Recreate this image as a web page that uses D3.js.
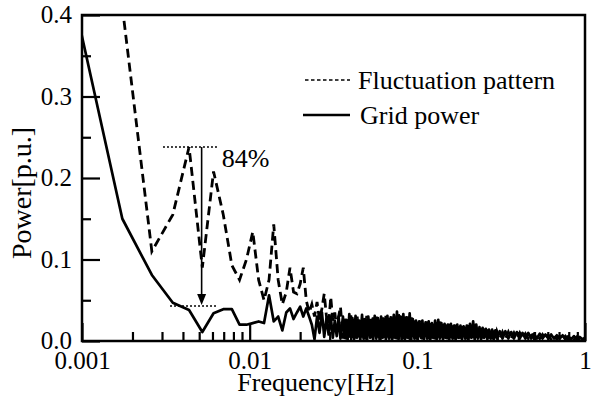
<!DOCTYPE html>
<html>
<head>
<meta charset="utf-8">
<script src="https://cdnjs.cloudflare.com/ajax/libs/d3/7.8.5/d3.min.js"></script>
<style>
  body { margin: 0; background: #fff; }
  text { font-family: "Liberation Serif", "Times New Roman", serif; fill: #000; }
</style>
</head>
<body>
<div id="chart"></div>
<script>
var WIDTH = 594;
var HEIGHT = 399;
var SERIF = '"Liberation Serif", "Times New Roman", serif';

// frequency bins [Hz]
var freq = [0.00087, 0.00174, 0.00261, 0.00348, 0.00435, 0.00522, 0.00609, 0.00696, 0.00783, 0.0087,
  0.00957, 0.01044, 0.01131, 0.01218, 0.01305, 0.01392, 0.01479, 0.01566, 0.01653, 0.0174,
  0.01827, 0.01914, 0.02001, 0.02088, 0.02175, 0.02262, 0.02349, 0.02436, 0.02523, 0.0261,
  0.02697, 0.02784, 0.02871, 0.02958, 0.03045, 0.03132, 0.03219, 0.03306, 0.03393, 0.0348,
  0.0360, 0.0368, 0.0376, 0.0384, 0.0393, 0.0401, 0.0410, 0.0419, 0.0428, 0.0438,
  0.0448, 0.0457, 0.0468, 0.0478, 0.0488, 0.0499, 0.0510, 0.0522, 0.0533, 0.0545,
  0.0557, 0.0569, 0.0582, 0.0595, 0.0608, 0.0621, 0.0635, 0.0649, 0.0663, 0.0678,
  0.0693, 0.0708, 0.0724, 0.0740, 0.0756, 0.0773, 0.0790, 0.0807, 0.0825, 0.0843,
  0.0862, 0.0881, 0.0900, 0.0920, 0.0940, 0.0961, 0.0982, 0.1004, 0.1026, 0.1049,
  0.1072, 0.1095, 0.1119, 0.1144, 0.1169, 0.1195, 0.1221, 0.1248, 0.1276, 0.1304,
  0.1333, 0.1362, 0.1392, 0.1423, 0.1454, 0.1486, 0.1519, 0.1552, 0.1586, 0.1621,
  0.1657, 0.1693, 0.1731, 0.1769, 0.1808, 0.1847, 0.1888, 0.1930, 0.1972, 0.2016,
  0.2060, 0.2105, 0.2152, 0.2199, 0.2247, 0.2297, 0.2347, 0.2399, 0.2452, 0.2506,
  0.2561, 0.2617, 0.2675, 0.2734, 0.2794, 0.2855, 0.2918, 0.2982,
  0.31, 0.322, 0.335, 0.349, 0.363, 0.377, 0.392, 0.408, 0.424, 0.441,
  0.459, 0.477, 0.496, 0.516, 0.537, 0.558, 0.581, 0.604, 0.628, 0.653,
  0.679, 0.706, 0.735, 0.764, 0.795, 0.826, 0.859, 0.894, 0.93, 0.967, 1.0];

// fluctuation pattern spectrum [p.u.]
var fluct = [0.8, 0.41, 0.11, 0.155, 0.238, 0.09, 0.208, 0.155, 0.093, 0.075,
  0.1, 0.134, 0.075, 0.05, 0.075, 0.143, 0.075, 0.045, 0.06, 0.09,
  0.06, 0.058, 0.07, 0.09, 0.05, 0.035, 0.045, 0.03, 0.048, 0.025,
  0.04, 0.058, 0.03, 0.02, 0.054, 0.025, 0.035, 0.015, 0.03, 0.042,
  0.003, 0.030, 0.002, 0.028, 0.004, 0.032, 0.002, 0.027, 0.003, 0.030,
  0.002, 0.026, 0.004, 0.029, 0.002, 0.031, 0.003, 0.027, 0.002, 0.029,
  0.004, 0.030, 0.002, 0.026, 0.003, 0.029, 0.002, 0.031, 0.004, 0.028,
  0.002, 0.030, 0.003, 0.029, 0.002, 0.033, 0.004, 0.031, 0.002, 0.030,
  0.003, 0.032, 0.002, 0.029, 0.004, 0.026, 0.002, 0.024, 0.003, 0.025,
  0.002, 0.023, 0.004, 0.024, 0.002, 0.022, 0.003, 0.024, 0.002, 0.023,
  0.004, 0.024, 0.002, 0.021, 0.003, 0.020, 0.002, 0.021, 0.004, 0.019,
  0.002, 0.020, 0.003, 0.018, 0.002, 0.019, 0.004, 0.018, 0.002, 0.020,
  0.003, 0.022, 0.002, 0.021, 0.004, 0.018, 0.002, 0.016, 0.003, 0.015,
  0.002, 0.014, 0.003, 0.014, 0.002, 0.013, 0.003, 0.012,
  0.003, 0.011, 0.003, 0.011, 0.003, 0.010, 0.003, 0.010, 0.003, 0.009,
  0.003, 0.009, 0.003, 0.008, 0.003, 0.008, 0.002, 0.007, 0.002, 0.007,
  0.002, 0.006, 0.002, 0.006, 0.002, 0.005, 0.002, 0.005, 0.002, 0.005, 0.003];

// grid power spectrum [p.u.]
var grid = [0.43, 0.15, 0.081, 0.047, 0.038, 0.011, 0.034, 0.039, 0.039, 0.02,
  0.02, 0.022, 0.024, 0.022, 0.056, 0.024, 0.03, 0.013, 0.035, 0.04,
  0.027, 0.035, 0.042, 0.03, 0.04, 0.03, 0.02, 0.002, 0.03, 0.01,
  0.035, 0.005, 0.028, 0.008, 0.03, 0.004, 0.025, 0.006, 0.03, 0.003,
  0.030, 0.004, 0.026, 0.002, 0.033, 0.005, 0.028, 0.002, 0.031, 0.004,
  0.025, 0.002, 0.032, 0.003, 0.027, 0.002, 0.030, 0.004, 0.026, 0.002,
  0.031, 0.003, 0.028, 0.002, 0.030, 0.004, 0.027, 0.002, 0.031, 0.003,
  0.029, 0.002, 0.032, 0.004, 0.036, 0.002, 0.030, 0.003, 0.033, 0.002,
  0.029, 0.004, 0.034, 0.002, 0.027, 0.003, 0.025, 0.002, 0.024, 0.004,
  0.025, 0.002, 0.023, 0.003, 0.024, 0.002, 0.022, 0.004, 0.025, 0.002,
  0.026, 0.003, 0.022, 0.002, 0.021, 0.004, 0.020, 0.002, 0.021, 0.003,
  0.019, 0.002, 0.020, 0.004, 0.019, 0.002, 0.018, 0.003, 0.019, 0.002,
  0.021, 0.004, 0.024, 0.002, 0.020, 0.003, 0.017, 0.002, 0.016, 0.004,
  0.015, 0.002, 0.014, 0.003, 0.014, 0.002, 0.013, 0.003,
  0.012, 0.003, 0.012, 0.003, 0.011, 0.003, 0.011, 0.003, 0.010, 0.003,
  0.010, 0.003, 0.009, 0.003, 0.009, 0.003, 0.008, 0.003, 0.008, 0.003,
  0.007, 0.003, 0.007, 0.002, 0.006, 0.002, 0.006, 0.002, 0.005, 0.002, 0.004];

var x_ticks = [0.001, 0.01, 0.1, 1];
var x_tick_labels = ["0.001", "0.01", "0.1", "1"];
var x_minor = [0.002, 0.003, 0.004, 0.005, 0.006, 0.007, 0.008, 0.009,
  0.02, 0.03, 0.04, 0.05, 0.06, 0.07, 0.08, 0.09,
  0.2, 0.3, 0.4, 0.5, 0.6, 0.7, 0.8, 0.9];
var y_ticks = [0, 0.1, 0.2, 0.3, 0.4];
var y_tick_labels = ["0.0", "0.1", "0.2", "0.3", "0.4"];
var y_minor = [0.05, 0.15, 0.25, 0.35];

// 84% reduction marker
var peak_level = 0.238;
var low_level = 0.043;
var peak_span = [0.00304, 0.00647];
var low_span = [0.00335, 0.00647];
var arrow_freq = 0.00517;

var series_names = ["Fluctuation pattern", "Grid power"];

var LEFT = 82;
var TOP = 15;
var RIGHT = 9;
var BOTTOM = 58;
var W = WIDTH - LEFT - RIGHT;
var H = HEIGHT - TOP - BOTTOM;

const svg = d3.select("#chart").append("svg").attr("width", WIDTH).attr("height", HEIGHT)
const g = svg.append("g").attr("transform", "translate(" + LEFT + "," + TOP + ")")

const x_scale = d3.scaleLog().domain([0.001, 1]).range([0, W])
const y_scale = d3.scaleLinear().domain([0, 0.4]).range([H, 0])

svg.append("defs").append("clipPath").attr("id", "plot-clip")
  .append("rect").attr("width", W).attr("height", H)

// axes, ticks point inward
const gen_x = d3.axisBottom(x_scale).tickValues(x_ticks).tickFormat((d, i) => x_tick_labels[i]).tickSizeInner(-18).tickSizeOuter(0).tickPadding(10)
const x_axis = g.append("g").attr("class", "x axis").attr("transform", "translate(0," + H + ")").call(gen_x)
const gen_x_minor = d3.axisBottom(x_scale).tickValues(x_minor).tickFormat("").tickSizeInner(-9).tickSizeOuter(0)
const x_axis_minor = g.append("g").attr("transform", "translate(0," + H + ")").call(gen_x_minor)

const gen_y = d3.axisLeft(y_scale).tickValues(y_ticks).tickFormat((d, i) => y_tick_labels[i]).tickSizeInner(-18).tickSizeOuter(0).tickPadding(10)
const y_axis = g.append("g").attr("class", "y axis").call(gen_y)
const gen_y_minor = d3.axisLeft(y_scale).tickValues(y_minor).tickFormat("").tickSizeInner(-9).tickSizeOuter(0)
const y_axis_minor = g.append("g").call(gen_y_minor)

;[x_axis, x_axis_minor, y_axis, y_axis_minor].forEach(a => {
  a.attr("font-family", SERIF).attr("font-size", 25)
  a.select(".domain").remove()
  a.selectAll("line").attr("stroke", "#000").attr("stroke-width", 2.2)
  a.selectAll("text").style("font-family", SERIF).attr("font-size", 25).attr("fill", "#000")
})
y_axis.selectAll("text").attr("dy", "0.3em")

// lines
const line = d3.line().x((d, i) => x_scale(freq[i])).y(d => y_scale(d))
const plot = g.append("g").attr("clip-path", "url(#plot-clip)")

plot.append("path").datum(grid).attr("d", line).attr("fill", "none")
  .attr("stroke", "#000").attr("stroke-width", 2.7).attr("stroke-linejoin", "round")
plot.append("path").datum(fluct).attr("d", line).attr("fill", "none")
  .attr("stroke", "#000").attr("stroke-width", 2.8).attr("stroke-dasharray", "9,5")

// frame
g.append("rect").attr("width", W).attr("height", H).attr("fill", "none").attr("stroke", "#000").attr("stroke-width", 2.5)

// annotation
g.append("line").attr("x1", x_scale(peak_span[0])).attr("x2", x_scale(peak_span[1]))
  .attr("y1", y_scale(peak_level)).attr("y2", y_scale(peak_level))
  .attr("stroke", "#000").attr("stroke-width", 1.4).attr("stroke-dasharray", "2,2")
g.append("line").attr("x1", x_scale(low_span[0])).attr("x2", x_scale(low_span[1]))
  .attr("y1", y_scale(low_level)).attr("y2", y_scale(low_level))
  .attr("stroke", "#000").attr("stroke-width", 1.4).attr("stroke-dasharray", "2,2")
var ax = x_scale(arrow_freq)
g.append("line").attr("x1", ax).attr("x2", ax)
  .attr("y1", y_scale(peak_level)).attr("y2", y_scale(low_level) - 10)
  .attr("stroke", "#000").attr("stroke-width", 1.6)
g.append("path")
  .attr("d", "M" + (ax - 4.5) + "," + (y_scale(low_level) - 12) + "L" + (ax + 4.5) + "," + (y_scale(low_level) - 12) + "L" + ax + "," + (y_scale(low_level) - 1) + "Z")
  .attr("fill", "#000")
g.append("text").attr("x", ax + 20).attr("y", y_scale(peak_level) + 20).attr("font-size", 26).style("font-family", SERIF).text("84%")

// axis titles
svg.append("text").attr("x", 316).attr("y", 391).attr("text-anchor", "middle").attr("font-size", 26).style("font-family", SERIF).text("Frequency[Hz]")
svg.append("text").attr("transform", "translate(31,193) rotate(-90)").attr("text-anchor", "middle").attr("font-size", 28).style("font-family", SERIF).text("Power[p.u.]")

// legend
const legend = svg.append("g").attr("id", "legend").style("font-family", SERIF)
const row1 = legend.append("g").attr("transform", "translate(305,80)")
row1.append("line").attr("x1", 0).attr("x2", 45).attr("stroke", "#000").attr("stroke-width", 1.6).attr("stroke-dasharray", "3.5,2.5")
row1.append("text").attr("x", 53).attr("y", 9).attr("font-size", 26).text(series_names[0])
const row2 = legend.append("g").attr("transform", "translate(303,115)")
row2.append("line").attr("x1", 0).attr("x2", 47).attr("stroke", "#000").attr("stroke-width", 2.4)
row2.append("text").attr("x", 57).attr("y", 9).attr("font-size", 26).text(series_names[1])
</script>
</body>
</html>
